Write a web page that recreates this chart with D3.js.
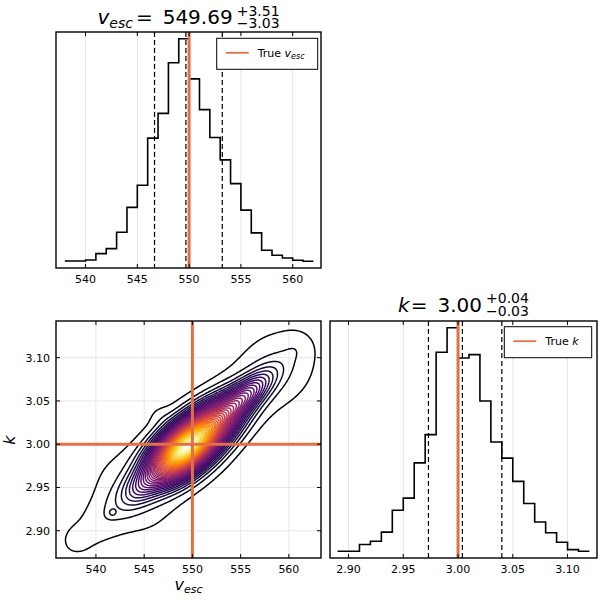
<!DOCTYPE html>
<html><head><meta charset="utf-8">
<script src="https://cdn.jsdelivr.net/npm/d3@7"></script>
<style>body{margin:0;background:#fff} text{font-family:"DejaVu Sans",sans-serif;fill:#000}</style>
</head><body><svg id="c" width="600" height="600" xmlns="http://www.w3.org/2000/svg"></svg>
<script>
// ---------------- data ----------------
const vEdges = [538,539,540,541,542,543,544,545,546,547,548,549,550,551,552,553,554,555,556,557,558,559,560,561,562];
const vCounts = [22,22,25,44,59,108,182,248,389,463,614,686,566,474,391,324,253,174,106,54,39,31,24,21];
const kEdges = [2.89,2.90,2.91,2.92,2.93,2.94,2.95,2.96,2.97,2.98,2.99,3.00,3.01,3.02,3.03,3.04,3.05,3.06,3.07,3.08,3.09,3.10,3.11,3.12];
const kCounts = [22,22,42,52,79,144,180,285,369,614,687,597,607,469,347,299,230,164,109,77,49,27,22];
const vQuantiles = [546.66, 549.69, 553.20];
const kQuantiles = [2.973, 3.004, 3.040];
const trueV = 550, trueK = 3.00;
const vTitle = ["549.69", "+3.51", "\u22123.03"];
const kTitle = ["3.00", "+0.04", "\u22120.03"];
const vTicks = [540,545,550,555,560];
const kTicks = [2.90,2.95,3.00,3.05,3.10];
const compV   = [548.61, 551.19, 555.40, 544.71, 559.15, 540.02, 560.9, 537.87, 541.7, 543.54, 549.78, 556.81, 546.54];
const compK   = [2.9892, 3.0142, 3.0551, 2.9513, 3.0915, 2.9059, 3.113, 2.8895, 2.921, 2.9400, 3.0006, 3.0688, 3.0334];
const compSdV = [2.170, 2.527, 2.045, 1.560, 3.407, 2.553, 1.034, 1.034, 0.2585, 3.584, 4.137, 3.922, 0.827];
const compSdK = [0.02253, 0.02580, 0.02050, 0.01619, 0.03724, 0.02622, 0.01155, 0.01155, 0.00289, 0.04162, 0.04619, 0.0430, 0.00924];
const compRho = [0.519, 0.639, 0.768, 0.524, 0.152, 0.596, 0, 0, 0, -0.278, 0, 0.132, 0];
const compAmp = [0.75, 0.65, 0.25, 0.12, 0.04, 0.035, 0.015, 0.02, 0.04, 0.04, 0.03, 0.015, 0.012];
const nLevels = 40;

// ---------------- layout ----------------
const svg = d3.select('#c');
const ORANGE = '#e26f46', GRID = '#e6e6e6';
const TL = {x0:56, x1:321, y0:32, y1:268};
const BL = {x0:56, x1:321, y0:321, y1:558};
const BR = {x0:330, x1:597, y0:321, y1:558};

function widened(ext){ const r = ext[1]-ext[0]; return [ext[0]-0.03*r, ext[1]+0.03*r]; }

const xTL = d3.scaleLinear([537.15, 562.73], [TL.x0, TL.x1]);
const yTL = d3.scaleLinear(widened(d3.extent(vCounts)), [TL.y1, TL.y0]);
const xBL = d3.scaleLinear([535.86, 563.33], [BL.x0, BL.x1]);
const yBL = d3.scaleLinear([2.8685, 3.1424], [BL.y1, BL.y0]);
const xBR = d3.scaleLinear(widened([kEdges[0], kEdges[kEdges.length-1]]), [BR.x0, BR.x1]);
const yBR = d3.scaleLinear(widened(d3.extent(kCounts)), [BR.y1, BR.y0]);

const defs = svg.append('defs');
function clip(id, P){
  defs.append('clipPath').attr('id', id).append('rect')
    .attr('x', P.x0).attr('y', P.y0).attr('width', P.x1-P.x0).attr('height', P.y1-P.y0);
  return svg.append('g').attr('clip-path', `url(#${id})`);
}

function vgrid(P, x, ticks){
  svg.append('g').selectAll('line').data(ticks).join('line')
    .attr('x1', d=>x(d)).attr('x2', d=>x(d)).attr('y1', P.y0).attr('y2', P.y1)
    .attr('stroke', GRID).attr('stroke-width', 1);
}
function hgrid(P, y, ticks){
  svg.append('g').selectAll('line').data(ticks).join('line')
    .attr('y1', d=>y(d)).attr('y2', d=>y(d)).attr('x1', P.x0).attr('x2', P.x1)
    .attr('stroke', GRID).attr('stroke-width', 1);
}
function frame(P){
  svg.append('rect').attr('x', P.x0).attr('y', P.y0).attr('width', P.x1-P.x0).attr('height', P.y1-P.y0)
    .attr('fill', 'none').attr('stroke', '#000').attr('stroke-width', 1.4);
}
function xticks(P, x, ticks, fmt){
  const g = svg.append('g');
  ticks.forEach(t=>{
    const px = x(t);
    g.append('line').attr('x1',px).attr('x2',px).attr('y1',P.y1).attr('y2',P.y1-4).attr('stroke','#000');
    g.append('line').attr('x1',px).attr('x2',px).attr('y1',P.y0).attr('y2',P.y0+4).attr('stroke','#000');
    g.append('text').attr('x',px).attr('y',P.y1+15).attr('text-anchor','middle').attr('font-size',11).text(fmt(t));
  });
}
function yticks(P, y, ticks, fmt){
  const g = svg.append('g');
  ticks.forEach(t=>{
    const py = y(t);
    g.append('line').attr('y1',py).attr('y2',py).attr('x1',P.x0).attr('x2',P.x0+4).attr('stroke','#000');
    g.append('line').attr('y1',py).attr('y2',py).attr('x1',P.x1).attr('x2',P.x1-4).attr('stroke','#000');
    g.append('text').attr('x',P.x0-6).attr('y',py+4).attr('text-anchor','end').attr('font-size',11).text(fmt(t));
  });
}

function histPanel(P, x, y, edges, counts, quant, truth, id){
  vgrid(P, x, id==='tl' ? vTicks : kTicks);
  const g = clip('clip-'+id, P);
  const pts = counts.map((c,i)=>[edges[i], c]).concat([[edges[edges.length-1], counts[counts.length-1]]]);
  g.append('path').attr('d', d3.line().x(d=>x(d[0])).y(d=>y(d[1])).curve(d3.curveStepAfter)(pts))
    .attr('fill','none').attr('stroke','#000').attr('stroke-width',1.6);
  g.selectAll('line.q').data(quant).join('line').attr('class','q')
    .attr('x1', d=>x(d)).attr('x2', d=>x(d)).attr('y1', P.y0).attr('y2', P.y1)
    .attr('stroke','#000').attr('stroke-width',1.2).attr('stroke-dasharray','5,3');
  g.append('line').attr('x1', x(truth)).attr('x2', x(truth)).attr('y1', P.y0).attr('y2', P.y1)
    .attr('stroke', ORANGE).attr('stroke-width', 3);
  frame(P);
}

histPanel(TL, xTL, yTL, vEdges, vCounts, vQuantiles, trueV, 'tl');
xticks(TL, xTL, vTicks, d3.format('d'));
histPanel(BR, xBR, yBR, kEdges, kCounts, kQuantiles, trueK, 'br');
xticks(BR, xBR, kTicks, d3.format('.2f'));

// ---------------- contour panel ----------------
vgrid(BL, xBL, vTicks); hgrid(BL, yBL, kTicks);
const gC = clip('clip-bl', BL);
const nx = 280, ny = 280;
const [v0, v1] = xBL.domain(), [k0, k1] = yBL.domain();
const dv = (v1-v0)/(nx-1), dk = (k1-k0)/(ny-1);
const vals = new Float64Array(nx*ny);
for (let j=0;j<ny;j++){
  const k = k0 + j*dk;
  for (let i=0;i<nx;i++){
    const v = v0 + i*dv;
    let s = 0;
    for (let c=0;c<compV.length;c++){
      const zv = (v-compV[c])/compSdV[c], zk = (k-compK[c])/compSdK[c], r = compRho[c];
      s += compAmp[c]*Math.exp(-0.5*(zv*zv - 2*r*zv*zk + zk*zk)/(1-r*r));
    }
    vals[j*nx+i] = s;
  }
}
const zmin = d3.min(vals), zmax = d3.max(vals);
const levels = d3.range(1, nLevels+1).map(i => zmin + i*(zmax-zmin)/(nLevels+1));
const cs = d3.contours().size([nx, ny]).thresholds(levels)(vals);
const proj = d3.geoTransform({ point(px, py){ this.stream.point(xBL(v0 + (px-0.5)*dv), yBL(k0 + (py-0.5)*dk)); } });
const gp = d3.geoPath(proj);
gC.selectAll('path.c').data(cs).join('path').attr('class','c')
  .attr('d', gp).attr('fill','none')
  .attr('stroke', d => d3.interpolateInferno((d.value-zmin)/(zmax-zmin)))
  .attr('stroke-width', 1.5);
gC.append('line').attr('x1', xBL(trueV)).attr('x2', xBL(trueV)).attr('y1', BL.y0).attr('y2', BL.y1)
  .attr('stroke', ORANGE).attr('stroke-width', 3);
gC.append('line').attr('y1', yBL(trueK)).attr('y2', yBL(trueK)).attr('x1', BL.x0).attr('x2', BL.x1)
  .attr('stroke', ORANGE).attr('stroke-width', 3);
frame(BL);
xticks(BL, xBL, vTicks, d3.format('d'));
yticks(BL, yBL, kTicks, d3.format('.2f'));

// axis labels
const xl = svg.append('text').attr('x', 188.5).attr('y', 590).attr('text-anchor','middle').attr('font-size',16);
xl.append('tspan').attr('font-style','italic').text('v');
xl.append('tspan').attr('font-style','italic').attr('font-size',11).attr('dy',3).text('esc');
svg.append('text').attr('transform','translate(15,440) rotate(-90)').attr('text-anchor','middle')
  .attr('font-size',16).attr('font-style','italic').text('k');

// ---------------- titles ----------------
function title(cx, base, build, sup, sub){
  const g = svg.append('g');
  const t = g.append('text').attr('y', base).attr('font-size', 20);
  build(t);
  const bb = t.node().getBBox();
  const w = bb.x + bb.width;
  const s1 = g.append('text').attr('x', w+4).attr('y', base-8.3).attr('font-size',14).text(sup);
  const s2 = g.append('text').attr('x', w+4).attr('y', base+4).attr('font-size',14).text(sub);
  const tw = w + 4 + Math.max(s1.node().getComputedTextLength(), s2.node().getComputedTextLength());
  g.attr('transform', `translate(${cx - tw/2},0)`);
}
title((TL.x0+TL.x1)/2, 24, t=>{
  t.append('tspan').attr('font-style','italic').text('v');
  t.append('tspan').attr('font-style','italic').attr('font-size',14).attr('dy',4).text('esc');
  t.append('tspan').attr('dy',-4).attr('dx',3).text('=');
  t.append('tspan').attr('dx',10).text(vTitle[0]);
}, vTitle[1], vTitle[2]);
title((BR.x0+BR.x1)/2, 311.5, t=>{
  t.append('tspan').attr('font-style','italic').text('k');
  t.append('tspan').attr('dx',1).text('=');
  t.append('tspan').attr('dx',10).text(kTitle[0]);
}, kTitle[1], kTitle[2]);

// ---------------- legends ----------------
function legend(x, y, w, h, build){
  const g = svg.append('g');
  g.append('rect').attr('x',x).attr('y',y).attr('width',w).attr('height',h)
    .attr('fill','#fff').attr('stroke','#000').attr('stroke-width',1);
  g.append('line').attr('x1',x+9).attr('x2',x+32).attr('y1',y+h/2-1).attr('y2',y+h/2-1)
    .attr('stroke',ORANGE).attr('stroke-width',1.8);
  const t = g.append('text').attr('x',x+41).attr('y',y+h/2+3).attr('font-size',11);
  build(t);
}
legend(216.7, 38.3, 101, 31, t=>{
  t.append('tspan').text('True ');
  t.append('tspan').attr('font-style','italic').text('v');
  t.append('tspan').attr('font-style','italic').attr('font-size',8).attr('dy',2.5).text('esc');
});
legend(504.3, 326.7, 87.4, 31, t=>{
  t.append('tspan').text('True ');
  t.append('tspan').attr('font-style','italic').text('k');
});
</script></body></html>
